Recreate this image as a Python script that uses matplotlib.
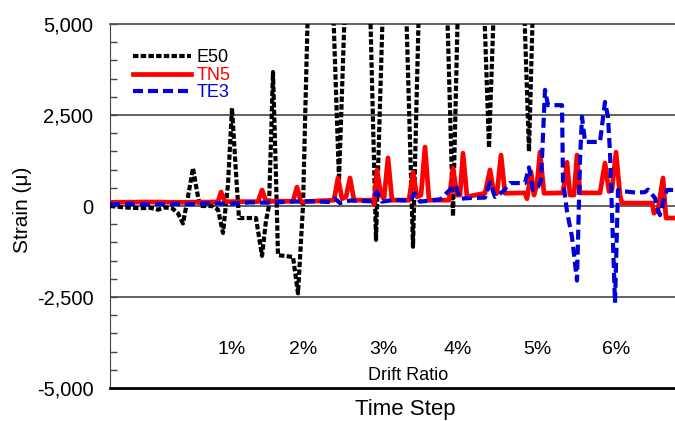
import matplotlib
matplotlib.use("Agg")
import matplotlib.pyplot as plt
from matplotlib.ticker import MultipleLocator, FuncFormatter

plt.rcParams["font.family"] = ["Liberation Sans", "DejaVu Sans"]

# Time step / strain readings for each gauge
e50_t = [0, 150, 300, 400, 480, 550, 620, 680, 730, 780, 830, 870, 900, 1020,
         1080, 1130, 1180, 1220, 1260, 1290, 1460, 1520, 1560, 1590, 1630, 1660,
         1680, 1830, 1880, 1930, 1980, 2230, 2290, 2350, 2600, 2660, 2730, 2960,
         3030, 3090, 3370, 3430, 3480, 3740, 3790, 3840, 4140, 4190, 4230, 4260]
e50_s = [0, -40, -60, -50, -100, -40, -60, -200, -480, 250, 1040, 400, 0, 0,
         -100, -740, 600, 2690, 900, -330, -330, -1370, -400, 0, 3680, 800,
         -1350, -1400, -2400, 0, 5600, 5600, 700, 5600, 5600, -930, 5600, 5600,
         -1120, 5600, 5600, -280, 5600, 5600, 1600, 5600, 5600, 1500, 5600, 6500]

tn5_t = [0, 400, 700, 1050, 1080, 1110, 1150, 1480, 1520, 1560, 1830, 1870, 1910,
         1950, 2240, 2280, 2320, 2360, 2400, 2440, 2620, 2640, 2670, 2710, 2740,
         2780, 2820, 2990, 3030, 3070, 3110, 3150, 3190, 3390, 3430, 3470, 3500,
         3530, 3570, 3650, 3750, 3800, 3840, 3870, 3910, 3950, 4150, 4170, 4210,
         4240, 4270, 4300, 4340, 4530, 4570, 4600, 4640, 4670, 4700, 4900, 4950,
         4990, 5020, 5060, 5100, 5120, 5420, 5440, 5480, 5530, 5560, 5650]
tn5_s = [100, 110, 100, 110, 120, 385, 120, 120, 440, 130, 130, 520, 100,
         120, 160, 770, 200, 250, 770, 160, 160, 50, 990, 300, 200,
         1320, 160, 160, 930, 250, 300, 1620, 160, 160, 1040, 300, 300,
         1450, 250, 300, 350, 990, 350, 350, 1400, 350, 360, 200, 940,
         300, 600, 1480, 350, 360, 1200, 300, 300, 1400, 360, 360, 1180,
         400, 450, 1480, 300, 80, 80, -200, -100, 770, -330, -330]

te3_t = [0, 200, 400, 600, 800, 1000, 1200, 1400, 1600, 1800, 2000, 2200, 2250,
         2300, 2400, 2600, 2670, 2720, 2850, 3000, 3050, 3100, 3300, 3450, 3500,
         3600, 3750, 3800, 3850, 3930, 4000, 4150, 4190, 4230, 4280, 4310, 4350,
         4380, 4520, 4530, 4570, 4620, 4670, 4700, 4720, 4750, 4900, 4950, 4980,
         5000, 5020, 5050, 5080, 5150, 5250, 5350, 5380, 5450, 5470, 5500, 5550,
         5570, 5650]
te3_s = [50, 60, 40, 60, 50, 80, 60, 100, 90, 120, 130, 110, 200,
         80, 150, 130, 385, 120, 170, 150, 350, 120, 180, 580, 200,
         220, 230, 650, 250, 400, 630, 630, 1060, 440, 520, 700, 3190,
         2770, 2770, 700, -150, -850, -2050, 1260, 2450, 1760, 1760, 2860, 2450,
         1460, -200, -2660, 440, 400, 370, 380, 450, 220, -50, -250, 300,
         440, 440]

drift_labels = ["1%", "2%", "3%", "4%", "5%", "6%"]
drift_t = [1220, 1930, 2730, 3480, 4270, 5060]

fig = plt.figure(figsize=(6.75, 4.21), dpi=100)
ax = fig.add_axes([110 / 675, 33 / 421, 590 / 675, 364 / 421])

ax.plot(e50_t, e50_s, color="black", lw=3.0, dashes=(1.3, 0.55), label="E50", zorder=3)
ax.plot(tn5_t, tn5_s, color="#ff0000", lw=3.4, label="TN5", zorder=4)
ax.plot(te3_t, te3_s, color="#0000d8", lw=3.0, dashes=(2.4, 1.2), label="TE3", zorder=5)

ax.set_xlim(0, 5900)
ax.set_ylim(-5000, 5000)

# gridlines only at +/-2500 and 0
for yv in (2500, 0, -2500):
    ax.axhline(yv, color="#555555", lw=1.3, zorder=1)

ax.yaxis.set_major_locator(MultipleLocator(2500))
ax.yaxis.set_minor_locator(MultipleLocator(500))
ax.yaxis.set_major_formatter(FuncFormatter(lambda v, p: f"{v:,.0f}"))
ax.tick_params(axis="y", which="both", direction="in", length=5, width=1,
               color="#444444", labelsize=14.5, pad=12)
ax.tick_params(axis="x", bottom=False, labelbottom=False)

ax.spines["right"].set_visible(False)
ax.spines["top"].set_color("#555555")
ax.spines["top"].set_linewidth(1.3)
ax.spines["left"].set_color("#444444")
ax.spines["bottom"].set_color("black")
ax.spines["bottom"].set_linewidth(2)

ax.set_ylabel("Strain (\u03bc)", fontsize=15)
ax.yaxis.set_label_coords(-0.132, 0.49)
ax.set_xlabel("Time Step", fontsize=16)
ax.xaxis.set_label_coords(0.5, -0.03)

for lab, t in zip(drift_labels, drift_t):
    ax.text(t, -3950, lab, ha="center", va="center", fontsize=14)
ax.text(0.505, 0.033, "Drift Ratio", transform=ax.transAxes,
        ha="center", va="center", fontsize=13)

leg = ax.legend(loc="upper left", bbox_to_anchor=(0.039, 0.93), frameon=False,
                fontsize=13, handlelength=3.2, handletextpad=0.3,
                labelspacing=0.02, borderpad=0, borderaxespad=0)
for txt, col in zip(leg.get_texts(), ["black", "#ff0000", "#0000d8"]):
    txt.set_color(col)

fig.savefig("out.png", dpi=100)
